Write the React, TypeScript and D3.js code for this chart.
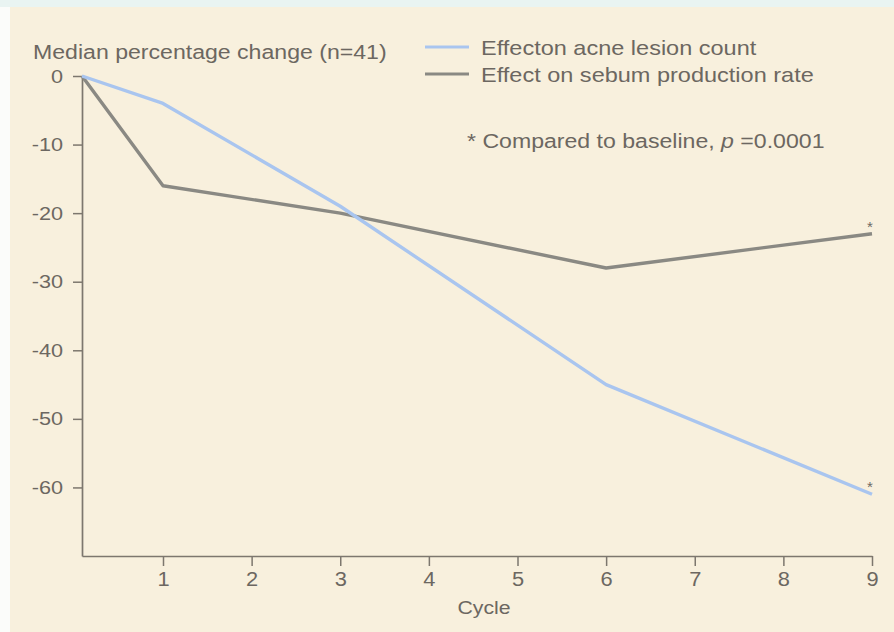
import { useEffect, useRef } from 'react'
import { select, scaleLinear, axisLeft, axisBottom, line } from 'd3'

// measured cycles and median % change from baseline
const cycles = [0, 1, 3, 6, 9]
const acneLesionChange = [0, -4, -19, -45, -61]
const sebumRateChange = [0, -16, -20, -28, -23]

const xTickValues = [1, 2, 3, 4, 5, 6, 7, 8, 9]
const yTickValues = [0, -10, -20, -30, -40, -50, -60]

const seriesNames = ['Effecton acne lesion count', 'Effect on sebum production rate']
const chartTitle = 'Median percentage change (n=41)'
const xTitle = 'Cycle'

const W = 894
const H = 632
const FONT = 'Liberation Sans, Arial, Helvetica, sans-serif'
const TEXT = '#6c6761'
const AXIS = '#7d776e'
const BLUE = '#a9c5ef'
const GRAY = '#8a8983'

const App = () => {
  const svgRef = useRef(null)

  useEffect(() => {
    const svg = select(svgRef.current)
    svg.selectAll('*').remove()
    svg.attr('width', W).attr('height', H).attr('viewBox', [0, 0, W, H])

    // page background: white edge, pale strip on top, cream panel
    svg.append('rect').attr('width', W).attr('height', H).attr('fill', '#fbfcfa')
    svg.append('rect').attr('width', W).attr('height', 7).attr('fill', '#e9f4f2')
    svg.append('rect').attr('x', 10).attr('y', 7).attr('width', W - 10).attr('height', H - 7).attr('fill', '#f8f0dd')

    // x axis: cycle 0 sits on the y axis, ticks 1..9 evenly spaced
    const x = scaleLinear().domain([0, 1, 9]).range([82, 163, 872])
    const y = scaleLinear().domain([-70, 0]).range([556, 76])

    const gy = svg
      .append('g')
      .attr('transform', 'translate(82,0)')
      .call(axisLeft(y).tickValues(yTickValues).tickSize(9).tickSizeOuter(0).tickFormat((d) => `${d}`))
      .attr('font-family', FONT)
      .attr('font-size', 19)
    gy.select('.domain').attr('stroke', AXIS).attr('stroke-width', 1.7)
    gy.selectAll('.tick line').attr('stroke', AXIS).attr('stroke-width', 1.5)
    gy.selectAll('.tick text')
      .attr('x', null)
      .attr('transform', 'translate(-19,0) scale(1.14,1)')
      .attr('fill', TEXT)

    const gx = svg
      .append('g')
      .attr('transform', 'translate(0,556)')
      .call(axisBottom(x).tickValues(xTickValues).tickSize(10).tickSizeOuter(0).tickPadding(6))
      .attr('font-family', FONT)
      .attr('font-size', 19.5)
    gx.select('.domain').attr('stroke', AXIS).attr('stroke-width', 1.7)
    gx.selectAll('.tick line').attr('stroke', AXIS).attr('stroke-width', 1.5)
    gx.selectAll('.tick text')
      .attr('transform', 'scale(1.12,1)')
      .attr('fill', TEXT)

    // series lines
    const series = [
      { values: sebumRateChange, color: GRAY },
      { values: acneLesionChange, color: BLUE },
    ]
    const path = line<number>()
      .x((_, i) => x(cycles[i]))
      .y((d) => y(d))
    series.forEach((s) => {
      svg
        .append('path')
        .attr('d', path(s.values))
        .attr('fill', 'none')
        .attr('stroke', s.color)
        .attr('stroke-width', 3.4)
        .attr('stroke-linejoin', 'round')
    })

    // significance stars at last cycle
    series.forEach((s) => {
      const last = s.values[s.values.length - 1]
      svg
        .append('text')
        .attr('x', x(cycles[cycles.length - 1]) - 2)
        .attr('y', y(last) - 2)
        .attr('text-anchor', 'middle')
        .attr('font-family', FONT)
        .attr('font-size', 15)
        .attr('fill', '#6f6a63')
        .text('*')
    })

    // title
    svg
      .append('text')
      .attr('transform', 'translate(33,59) scale(1.1,1)')
      .attr('font-family', FONT)
      .attr('font-size', 21)
      .attr('fill', TEXT)
      .text(chartTitle)

    // legend
    const legendColors = [BLUE, GRAY]
    seriesNames.forEach((name, i) => {
      const ly = 47 + i * 27
      svg
        .append('line')
        .attr('x1', 425)
        .attr('x2', 469)
        .attr('y1', ly)
        .attr('y2', ly)
        .attr('stroke', legendColors[i])
        .attr('stroke-width', 3)
      svg
        .append('text')
        .attr('transform', `translate(481,${ly + 8}) scale(1.12,1)`)
        .attr('font-family', FONT)
        .attr('font-size', 21)
        .attr('fill', TEXT)
        .text(name)
    })

    // footnote
    const note = svg
      .append('text')
      .attr('transform', 'translate(467,148) scale(1.1,1)')
      .attr('font-family', FONT)
      .attr('font-size', 21)
      .attr('fill', TEXT)
    note.append('tspan').text('* Compared to baseline, ')
    note.append('tspan').attr('font-style', 'italic').text('p')
    note.append('tspan').text(' =0.0001')

    // x axis title
    svg
      .append('text')
      .attr('transform', 'translate(484,614) scale(1.12,1)')
      .attr('text-anchor', 'middle')
      .attr('font-family', FONT)
      .attr('font-size', 19)
      .attr('fill', TEXT)
      .text(xTitle)
  }, [])

  return <svg ref={svgRef} style={{ position: 'absolute', left: 0, top: 0, display: 'block' }} />
}

export default App
